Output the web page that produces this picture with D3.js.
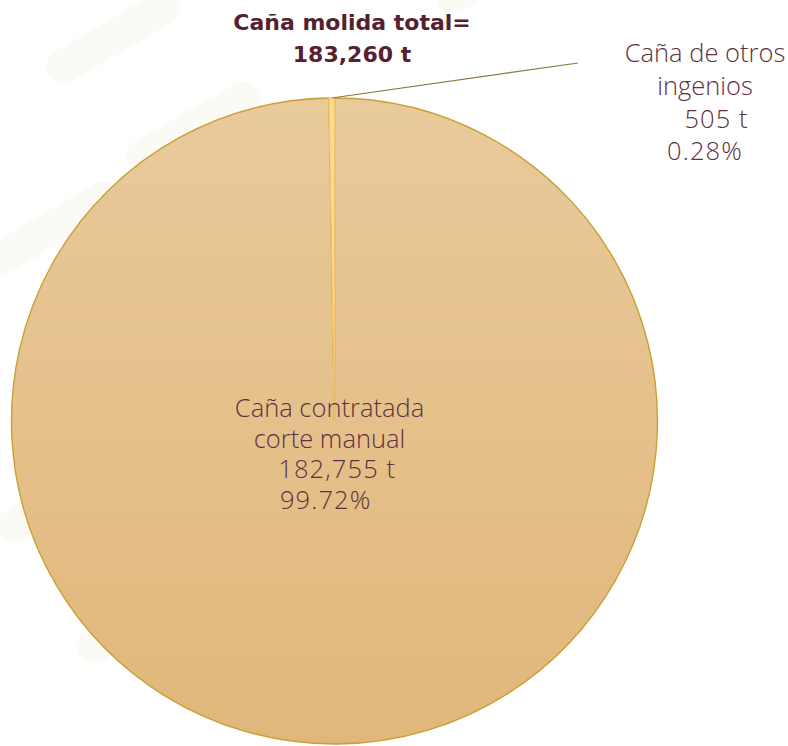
<!DOCTYPE html>
<meta charset="utf-8">
<style>
  body { margin: 0; background: #fff; }
  svg { display: block; }
  .lbl { font-family: "Open Sans", sans-serif; font-weight: 300; fill: #5e3140; white-space: pre; }
  .num { letter-spacing: 1.1px; }
  .title { font-family: "DejaVu Sans", sans-serif; font-weight: 700; fill: #56202f; }
</style>
<svg width="788" height="746"></svg>
<script src="https://cdnjs.cloudflare.com/ajax/libs/d3/7.8.5/d3.min.js"></script>
<script>

// data
var categories = ["Caña contratada corte manual", "Caña de otros ingenios"];
var values = [182755, 505];
var labelLines = [
  ["Caña contratada", "corte manual"],
  ["Caña de otros", "ingenios"]
];
var titleLines = ["Caña molida total=", "183,260 t"];

var svg = d3.select("svg"),
    width = +svg.attr("width"),
    height = +svg.attr("height"),
    cx = 334.5, cy = 421,
    radius = 323;

var defs = svg.append("defs");
var grad = defs.append("linearGradient")
    .attr("id", "bigfill")
    .attr("x1", 0).attr("y1", 0).attr("x2", 0).attr("y2", 1);
grad.append("stop").attr("offset", "0%").attr("stop-color", "#e9ca9b");
grad.append("stop").attr("offset", "100%").attr("stop-color", "#e0b77b");

// faint watermark in the background
var wm = svg.append("g").attr("fill", "#fcfaf5");
[[40, 60, -30], [120, 150, -30], [-20, 250, -30], [60, 360, -30], [-10, 520, -30], [70, 640, -30], [430, -10, -30]]
  .forEach(function(d) {
    wm.append("rect")
      .attr("x", d[0]).attr("y", d[1])
      .attr("width", 150).attr("height", 34).attr("rx", 17)
      .attr("transform", "rotate(" + d[2] + "," + d[0] + "," + d[1] + ")");
  });

var g = svg.append("g").attr("transform", "translate(" + cx + "," + cy + ")");

var total = d3.sum(values);
var pie = d3.pie().sort(null).value(function(d) { return d; });
var arcs = pie(values);

var arc = d3.arc().innerRadius(0).outerRadius(radius);

var fills = ["url(#bigfill)", "#fbd98f"];
var strokes = ["#c9a035", "#f2c46e"];

g.selectAll("path")
  .data(arcs)
  .enter().append("path")
    .attr("d", arc)
    .attr("fill", function(d, i) { return fills[i]; })
    .attr("stroke", function(d, i) { return strokes[i]; })
    .attr("stroke-width", function(d, i) { return i === 0 ? 1.4 : 1; });

var fmt = d3.format(",");
var pct = d3.format(".2%");

// big slice label, inside
var big = g.append("text").attr("class", "lbl").attr("font-size", 25.5)
    .attr("text-anchor", "middle");
var bigLines = labelLines[0].concat(["  " + fmt(values[0]) + " t", pct(values[0] / total) + " "]);
big.selectAll("tspan").data(bigLines).enter().append("tspan")
    .attr("class", function(d, i) { return i > 1 ? "num" : null; })
    .attr("x", -5)
    .attr("y", function(d, i) { return -4 + i * 30.5; })
    .text(function(d) { return d; });

// small slice: leader line + outside label
var sm = arcs[1];
var a = (sm.startAngle + sm.endAngle) / 2;
var p0 = [radius * Math.sin(a), -radius * Math.cos(a)];
var lx = 578 - cx, ly = 63 - cy;
g.append("line")
    .attr("x1", p0[0]).attr("y1", p0[1])
    .attr("x2", lx).attr("y2", ly)
    .attr("stroke", "#8c7a3c").attr("stroke-width", 1.2);

var small = g.append("text").attr("class", "lbl").attr("font-size", 25.5)
    .attr("text-anchor", "middle");
var smallLines = labelLines[1].concat(["   " + fmt(values[1]) + " t", pct(values[1] / total)]);
small.selectAll("tspan").data(smallLines).enter().append("tspan")
    .attr("class", function(d, i) { return i > 1 ? "num" : null; })
    .attr("x", lx + 127)
    .attr("y", function(d, i) { return ly - 1 + i * 32.8; })
    .text(function(d) { return d; });

// title
var title = svg.append("text").attr("class", "title").attr("font-size", 22)
    .attr("text-anchor", "middle");
title.selectAll("tspan").data(titleLines).enter().append("tspan")
    .attr("x", 352)
    .attr("y", function(d, i) { return 30 + i * 32; })
    .text(function(d) { return d; });

</script>
